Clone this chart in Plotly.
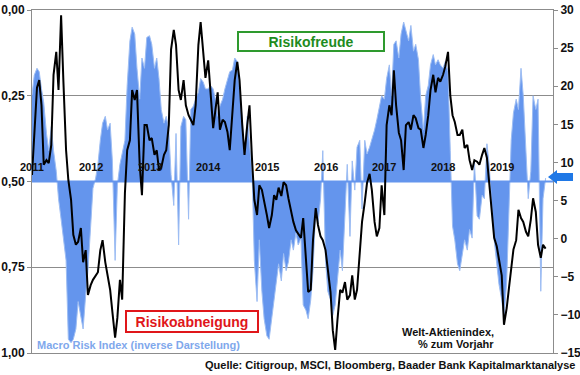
import pandas as pd
import plotly.graph_objects as go

start_date = "2011-01-01"
axis_end = "2019-11-16"

macro_risk_inv = [
    0.248, 0.19, 0.17, 0.18, 0.23, 0.27, 0.36, 0.41, 0.34, 0.41, 0.47, 0.55, 0.61, 0.67, 0.73, 0.96, 0.97, 0.96, 0.93, 0.85, 0.90, 0.93, 0.83, 0.76,
    0.63, 0.52, 0.49, 0.45, 0.38, 0.33, 0.31, 0.35, 0.33, 0.44, 0.73, 0.51, 0.45, 0.42, 0.38, 0.22, 0.09, 0.05, 0.07, 0.17, 0.26, 0.14, 0.17, 0.08,
    0.075, 0.10, 0.17, 0.14, 0.20, 0.29, 0.33, 0.31, 0.35, 0.48, 0.57, 0.36, 0.685, 0.34, 0.31, 0.32, 0.61, 0.29, 0.28, 0.26, 0.24, 0.20, 0.21, 0.23,
    0.23, 0.22, 0.23, 0.26, 0.31, 0.28, 0.26, 0.23, 0.20, 0.18, 0.175, 0.14, 0.15, 0.22, 0.32, 0.42, 0.31, 0.39, 0.47, 0.73, 0.85, 0.67, 0.82, 0.90,
    0.95, 0.96, 0.90, 0.85, 0.80, 0.74, 0.79, 0.71, 0.76, 0.735, 0.67, 0.70, 0.65, 0.685, 0.665, 0.86, 0.875, 0.90, 0.845, 0.76, 0.58, 0.625, 0.55, 0.41,
    0.73, 0.82, 0.845, 0.89, 0.86, 0.79, 0.70, 0.76, 0.60, 0.45, 0.66, 0.44, 0.525, 0.40, 0.38, 0.58, 0.38, 0.42, 0.40, 0.38, 0.35, 0.32, 0.28, 0.25,
    0.26, 0.20, 0.16, 0.25, 0.10, 0.09, 0.14, 0.07, 0.035, 0.06, 0.09, 0.045, 0.12, 0.10, 0.145, 0.26, 0.35, 0.25, 0.22, 0.16, 0.13, 0.16, 0.145, 0.16,
    0.17, 0.15, 0.18, 0.41, 0.63, 0.67, 0.74, 0.76, 0.715, 0.67, 0.70, 0.64, 0.665, 0.44, 0.60, 0.61, 0.54, 0.55, 0.39, 0.45, 0.58, 0.67, 0.74, 0.80,
    0.845, 0.90, 0.79, 0.60, 0.38, 0.30, 0.26, 0.29, 0.17, 0.25, 0.41, 0.55, 0.47, 0.25, 0.29, 0.26, 0.82, 0.55, 0.49,
]

world_equity_yoy = [
    8.35, 14.3, 19.8, 20.8, 17.5, 9.7, 10.3, 9.9, 12.3, 21.5, 24.5, 19.5, 29.3, 20.8, 11.6, 7.7, 5.1, 0.5, -0.8, -0.4, 1.4, -3.1, -1.5, -7.4,
    -6.1, -5.4, -4.8, -4.4, -1.5, -0.2, -3.1, -4.8, -6.7, -9.6, -13.0, -10.4, -5.4, -8.0, 6.0, 11.6, 12.9, 19.5, 18.2, 19.5, 9.7, 5.7, 14.9, 14.9,
    12.9, 13.2, 11.0, 11.6, 9.0, 9.3, 11.0, 11.6, 14.9, 24.8, 27.4, 25.4, 19.5, 18.2, 20.8, 17.5, 16.2, 15.6, 14.9, 17.5, 25.4, 28.4, 24.1, 21.1,
    23.4, 18.8, 14.5, 16.9, 19.2, 14.3, 15.6, 15.3, 14.0, 11.6, 16.2, 20.8, 23.2, 20.8, 14.9, 11.0, 14.9, 17.5, 10.3, 5.1, 3.1, 7.0, 6.4, 5.1,
    3.1, 1.4, 3.1, 5.7, 5.1, 6.7, 5.6, 7.4, 7.0, 5.3, 3.5, 2.2, 1.1, 0.6, 0.1, 2.7, -2.8, -7.0, -6.7, -0.2, 4.0, 1.8, 0.3, -0.2,
    -1.5, -4.1, -7.0, -12.0, -14.6, -10.7, -6.7, -7.1, -5.7, -8.0, -7.4, -4.8, -8.0, -6.7, -2.1, 2.2, 4.8, 7.3, 8.5, 6.4, 2.2, 0.3, 1.4, 7.0,
    3.1, 14.9, 17.5, 16.2, 22.1, 17.5, 13.9, 12.9, 9.0, 14.9, 15.3, 14.3, 16.2, 15.8, 14.5, 14.3, 11.9, 13.6, 16.2, 19.5, 21.5, 19.2, 21.1, 20.6,
    21.5, 22.6, 24.5, 18.8, 16.2, 15.3, 13.6, 13.6, 14.3, 11.9, 12.3, 10.3, 9.0, 10.3, 10.1, 9.7, 11.0, 11.9, 10.6, 7.0, 3.5, 0.1, -1.0, -2.5,
    -4.8, -11.3, -9.1, -6.5, -3.5, -1.4, -0.2, 3.8, 2.7, 2.2, 0.9, 0.3, 2.5, 5.3, 3.5, -0.8, -2.5, -0.8, -1.3,
]

neutral_level = 0.5
year_labels = ["2011", "2012", "2013", "2014", "2015", "2016", "2017", "2018", "2019"]
left_ticks = [0, 0.25, 0.5, 0.75, 1.0]
left_ticktext = ["0,00", "0,25", "0,50", "0,75", "1,00"]
right_ticks = [-15, -10, -5, 0, 5, 10, 15, 20, 25, 30]

dates = pd.date_range(start_date, periods=len(macro_risk_inv), freq="SMS")

FONT = "Arial, 'Liberation Sans', sans-serif"
BLUE = "#6495ED"
BLUE_LIGHT = "#9DBDF3"
GREY = "#8C8C8C"

fig = go.Figure()

# baseline for the fill
fig.add_trace(go.Scatter(x=dates, y=[neutral_level] * len(dates), mode="lines",
                         line=dict(width=0, color=BLUE), hoverinfo="skip", showlegend=False))
# Macro Risk Index (inverse) as area around 0.5
fig.add_trace(go.Scatter(x=dates, y=macro_risk_inv, mode="lines", fill="tonexty",
                         fillcolor=BLUE, line=dict(width=1, color=BLUE_LIGHT),
                         showlegend=False))
# blue axis line at 0.5
fig.add_trace(go.Scatter(x=[start_date, axis_end], y=[neutral_level, neutral_level], mode="lines",
                         line=dict(width=2, color=BLUE), hoverinfo="skip", showlegend=False))
# world equity index yoy (right axis)
fig.add_trace(go.Scatter(x=dates, y=world_equity_yoy, mode="lines", yaxis="y2",
                         line=dict(width=2, color="black"), showlegend=False))

annotations = []
for yl in year_labels:
    annotations.append(dict(x=f"{yl}-01-01", y=neutral_level, xref="x", yref="y",
                            text=yl, showarrow=False, yanchor="bottom", yshift=7,
                            font=dict(family=FONT, size=11, color="#111", weight="bold")))

annotations += [
    dict(x=0.5355, y=0.908, xref="paper", yref="paper", text="Risikofreude", showarrow=False,
         font=dict(family=FONT, size=14, color="#1E8B1E", weight="bold"),
         bordercolor="#2E9A2E", borderwidth=2, borderpad=1, width=142, height=15,
         bgcolor="white", xanchor="center", yanchor="middle"),
    dict(x=0.307, y=0.0918, xref="paper", yref="paper", text="Risikoabneigung", showarrow=False,
         font=dict(family=FONT, size=14, color="#E0161A", weight="bold"),
         bordercolor="#E0161A", borderwidth=2, borderpad=1, width=128, height=17,
         bgcolor="white", xanchor="center", yanchor="middle"),
    dict(x=0.006, y=0.0233, xref="paper", yref="paper", text="Macro Risk Index (inverse Darstellung)",
         showarrow=False, xanchor="left", yanchor="middle",
         font=dict(family=FONT, size=11, color="#7FA8EC", weight="bold")),
    dict(x=0.8906, y=0.0612, xref="paper", yref="paper", text="Welt-Aktienindex,",
         showarrow=False, xanchor="right", yanchor="middle",
         font=dict(family=FONT, size=11, color="#111", weight="bold")),
    dict(x=0.8906, y=0.0262, xref="paper", yref="paper", text="% zum Vorjahr",
         showarrow=False, xanchor="right", yanchor="middle",
         font=dict(family=FONT, size=11, color="#111", weight="bold")),
    dict(x=1.046, y=-0.035, xref="paper", yref="paper",
         text="Quelle: Citigroup, MSCI, Bloomberg, Baader Bank Kapitalmarktanalyse",
         showarrow=False, xanchor="right", yanchor="middle",
         font=dict(family=FONT, size=11, color="#111", weight="bold")),
]

shapes = [
    dict(type="path", xref="paper", yref="paper", layer="above",
         path="M 0.9904,0.5131 L 1.0077,0.5335 L 1.0077,0.5248 L 1.0384,0.5248 "
              "L 1.0384,0.5014 L 1.0077,0.5014 L 1.0077,0.4927 Z",
         fillcolor="#1F78E6", line=dict(width=0)),
]

fig.update_layout(
    width=580, height=375,
    margin=dict(l=32, r=27, t=10, b=22),
    paper_bgcolor="white", plot_bgcolor="white",
    showlegend=False,
    font=dict(family=FONT, color="#111"),
    xaxis=dict(type="date", range=[start_date, axis_end], showticklabels=False,
               showgrid=False, zeroline=False, showline=True, mirror=True,
               linecolor=GREY, linewidth=1, ticks="", automargin=False),
    yaxis=dict(range=[1, 0], tickvals=left_ticks, ticktext=left_ticktext,
               showgrid=True, gridcolor=GREY, gridwidth=1, zeroline=False,
               showline=True, linecolor=GREY, linewidth=1, automargin=False,
               ticks="outside", ticklen=4, tickcolor=GREY,
               tickfont=dict(family=FONT, size=12, color="#111", weight="bold")),
    yaxis2=dict(range=[-15, 30], tickvals=right_ticks, overlaying="y", side="right",
                showgrid=False, zeroline=False, showline=True, linecolor=GREY, linewidth=1,
                automargin=False, ticks="outside", ticklen=4, tickcolor=GREY,
                tickfont=dict(family=FONT, size=12, color="#111", weight="bold")),
    annotations=annotations,
    shapes=shapes,
)

fig.write_html("out.html", config={"displayModeBar": False},
               post_script="document.body.style.margin='0';document.body.style.padding='0';")
